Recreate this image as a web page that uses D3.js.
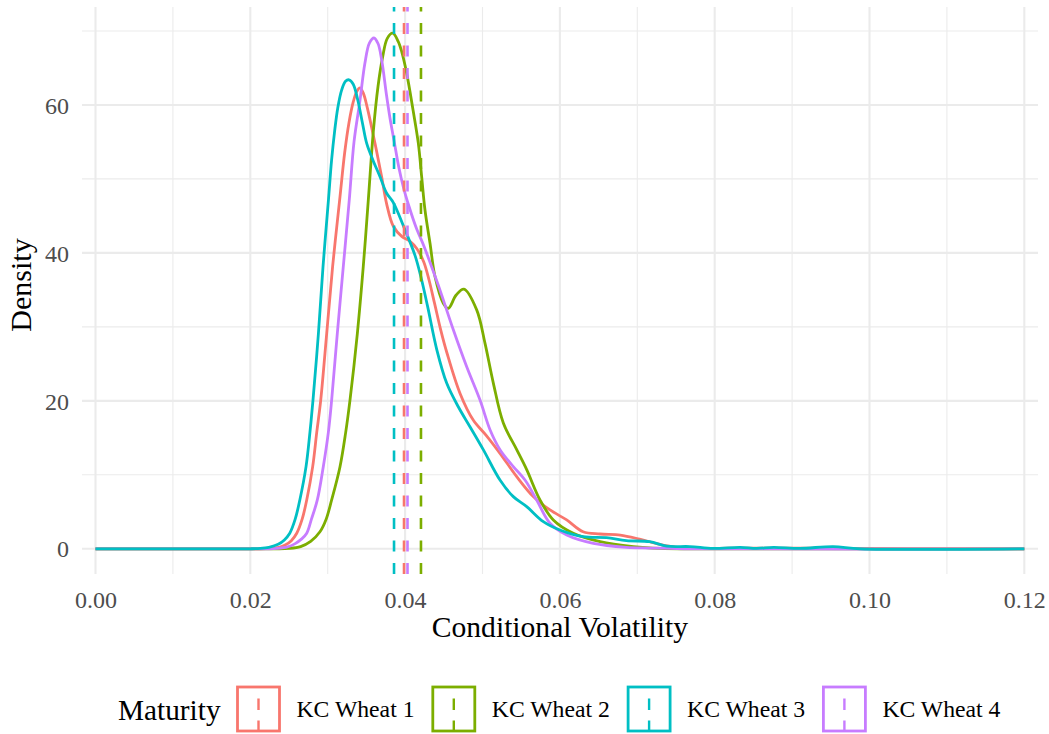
<!DOCTYPE html>
<html>
<head>
<meta charset="utf-8">
<script src="https://cdn.jsdelivr.net/npm/d3@7"></script>
<style>
  html, body { margin: 0; padding: 0; background: #ffffff; }
  svg { display: block; font-family: "Liberation Serif", "DejaVu Serif", serif; }
</style>
</head>
<body>
<svg id="chart" width="1049" height="734"></svg>
<script>
// ---------------- DATA ----------------
const seriesNames = ["KC Wheat 1", "KC Wheat 2", "KC Wheat 3", "KC Wheat 4"];
const seriesColors = ["#F8766D", "#7CAE00", "#00BFC4", "#C77CFF"];
const legendTitle = "Maturity";
const xAxisTitle = "Conditional Volatility";
const yAxisTitle = "Density";
const xTicks = [0, 0.02, 0.04, 0.06, 0.08, 0.10, 0.12];
const xMinorTicks = [0.01, 0.03, 0.05, 0.07, 0.09, 0.11];
const yTicks = [0, 20, 40, 60];
const yMinorTicks = [10, 30, 50, 70];
// mean conditional volatility per maturity (dashed lines)
const seriesMeans = [0.03986, 0.04205, 0.03857, 0.04031];

// density estimates [volatility, density]
const kcWheat1 = [[0,0],[0.021,0],[0.0225,0.05],[0.0237,0.2],[0.0245,0.5],[0.0253,1.1],[0.026,2.1],[0.0267,4.0],
  [0.02729,6.6],[0.02806,11.1],[0.02858,15.7],[0.0291,20.1],[0.02987,29.1],[0.03064,38.2],[0.03159,47.6],
  [0.0322,53.6],[0.03275,57.6],[0.0333,60.4],[0.03375,61.8],[0.03417,62.3],[0.0346,61.6],[0.03512,59.6],
  [0.03611,54.8],[0.03697,50.3],[0.0376,46.7],
  [0.03848,43.6],[0.0396,42.2],[0.0406,41.6],[0.0415,40.6],[0.0424,38.8],[0.0431,36.3],[0.0438,33.2],
  [0.0446,29.6],[0.0454,26.5],[0.0471,21.0],[0.0488,17.4],[0.0505,15.3],[0.05226,12.9],[0.05442,9.75],
  [0.05656,7.05],[0.05872,5.25],[0.06088,3.9],[0.063,2.3],[0.0652,2.0],[0.0678,1.85],[0.0703,1.3],
  [0.0729,0.6],[0.0755,0.15],[0.078,0.05],[0.082,0.08],[0.087,0.1],[0.095,0.08],[0.1,0.01],[0.105,0],[0.12,0]];
const kcWheat2 = [[0,0],[0.023,0],[0.025,0.05],[0.0265,0.3],[0.0278,1.0],[0.029,2.3],[0.0298,4.0],
  [0.03051,6.6],[0.03159,11.1],[0.03232,15.7],[0.03288,20.1],[0.03383,29.1],[0.0346,38.2],[0.03525,47.2],
  [0.0359,56.5],[0.0365,62.5],[0.0371,66.5],[0.0377,69.0],[0.0384,69.7],[0.0391,68.6],[0.03956,67.2],
  [0.0402,64.3],[0.04106,59.1],
  [0.04171,54.8],[0.04214,50.3],[0.04257,45.8],[0.04322,41.3],[0.04386,36.8],[0.04493,33.2],[0.04558,32.5],
  [0.0466,34.3],[0.0476,35.1],[0.04925,32.3],[0.05032,27.8],[0.0514,22.4],[0.05269,17.0],[0.05442,13.4],
  [0.05571,10.7],[0.05743,6.6],[0.05915,3.9],[0.06173,2.1],[0.0652,0.96],[0.0695,0.3],[0.073,0.05],[0.077,0],[0.12,0]];
const kcWheat3 = [[0,0],[0.020,0],[0.0213,0.05],[0.0224,0.2],[0.0236,0.6],[0.0244,1.2],[0.0251,2.1],[0.0258,4.0],
  [0.0264,6.6],[0.0272,11.1],[0.0277,15.7],[0.0281,20.1],[0.0288,29.1],[0.0294,38.2],[0.0301,47.2],[0.0305,52.5],
  [0.0309,56.5],[0.0313,59.6],[0.0318,62.0],[0.0323,63.2],[0.03275,63.4],[0.0333,62.8],[0.0339,60.6],[0.0345,57.5],
  [0.03504,54.8],[0.0359,52.4],[0.03676,50.3],[0.0376,48.1],
  [0.03848,46.8],[0.0398,43.6],[0.0413,39.6],[0.0421,36.5],[0.0429,32.8],[0.0441,26.9],[0.04537,22.4],
  [0.04687,19.2],[0.04838,16.5],[0.0501,13.4],[0.05226,9.3],[0.05398,7.05],[0.05571,5.7],[0.05786,3.67],
  [0.06,2.54],[0.063,1.64],[0.066,1.5],[0.0686,1.1],[0.0716,0.96],[0.0738,0.35],[0.0768,0.3],[0.0798,0.05],
  [0.0833,0.2],[0.0854,0.05],[0.0876,0.2],[0.091,0.05],[0.0953,0.3],[0.0988,0],[0.12,0]];
const kcWheat4 = [[0,0],[0.022,0],[0.0235,0.05],[0.0248,0.25],[0.0258,0.7],[0.0266,1.3],[0.02729,2.1],[0.0279,4.0],
  [0.02866,6.6],[0.02943,11.1],[0.03008,15.7],[0.03051,20.1],[0.03124,29.1],[0.03202,38.2],[0.03279,47.2],
  [0.0334,55.0],[0.03417,60.6],[0.0348,65.6],[0.0354,68.4],[0.03598,69.05],[0.0365,68.3],[0.03697,66.1],
  [0.0376,61.3],[0.03805,58.2],
  [0.0386,55.0],[0.0392,51.5],[0.0398,48.8],[0.0405,46.3],[0.0414,43.5],[0.0424,41.0],[0.0434,38.2],
  [0.0445,35.0],[0.04623,29.6],[0.04796,24.6],[0.04968,20.1],[0.05097,16.1],[0.05226,13.4],[0.05398,11.1],
  [0.05549,9.3],[0.057,6.6],[0.05872,3.45],[0.06088,1.87],[0.06432,0.74],[0.0686,0.2],[0.0716,0.1],[0.076,0],[0.12,0]];
const seriesData = [kcWheat1, kcWheat2, kcWheat3, kcWheat4];

// ---------------- LAYOUT ----------------
const svg = d3.select("#chart");
const panel = { left: 82, right: 1038, top: 7, bottom: 574 };
const x = d3.scaleLinear().domain([-0.001744, 0.12177]).range([panel.left, panel.right]);
const y = d3.scaleLinear().domain([-3.41, 73.24]).range([panel.bottom, panel.top]);
const gridColor = "#EBEBEB";

// grid
const g = svg.append("g");
g.selectAll(".ymin").data(yMinorTicks).join("line")
  .attr("x1", panel.left).attr("x2", panel.right)
  .attr("y1", d => y(d)).attr("y2", d => y(d))
  .attr("stroke", gridColor).attr("stroke-width", 1.1);
g.selectAll(".xmin").data(xMinorTicks).join("line")
  .attr("y1", panel.top).attr("y2", panel.bottom)
  .attr("x1", d => x(d)).attr("x2", d => x(d))
  .attr("stroke", gridColor).attr("stroke-width", 1.1);
g.selectAll(".ymaj").data(yTicks).join("line")
  .attr("x1", panel.left).attr("x2", panel.right)
  .attr("y1", d => y(d)).attr("y2", d => y(d))
  .attr("stroke", gridColor).attr("stroke-width", 2.1);
g.selectAll(".xmaj").data(xTicks).join("line")
  .attr("y1", panel.top).attr("y2", panel.bottom)
  .attr("x1", d => x(d)).attr("x2", d => x(d))
  .attr("stroke", gridColor).attr("stroke-width", 2.1);

// clip
svg.append("clipPath").attr("id", "clip").append("rect")
  .attr("x", panel.left).attr("y", panel.top)
  .attr("width", panel.right - panel.left).attr("height", panel.bottom - panel.top);

const line = d3.line().x(d => x(d[0])).y(d => y(Math.max(0, d[1]))).curve(d3.curveCatmullRom.alpha(0.5));
const drawOrder = [0, 1, 3, 2];
const curves = svg.append("g").attr("clip-path", "url(#clip)");
curves.selectAll("path").data(drawOrder).join("path")
  .attr("d", i => line(seriesData[i]))
  .attr("fill", "none")
  .attr("stroke", i => seriesColors[i])
  .attr("stroke-width", 2.8)
  .attr("stroke-linejoin", "round");

// mean lines (dash pattern starts at bottom)
const vl = svg.append("g").attr("clip-path", "url(#clip)");
vl.selectAll("line").data([0, 1, 2, 3]).join("line")
  .attr("x1", i => x(seriesMeans[i])).attr("x2", i => x(seriesMeans[i]))
  .attr("y1", panel.bottom).attr("y2", panel.top)
  .attr("stroke", i => seriesColors[i])
  .attr("stroke-width", 2.6)
  .attr("stroke-dasharray", "11,11.5");

// axes labels
const xAxis = d3.axisBottom(x).tickValues(xTicks).tickFormat(d3.format(".2f")).tickSize(0).tickPadding(0);
const xa = svg.append("g").attr("transform", `translate(0,${panel.bottom})`).call(xAxis);
xa.select(".domain").remove();
xa.selectAll("text").attr("fill", "#4D4D4D").attr("font-size", 24).attr("dy", null)
  .attr("y", 34).attr("font-family", "Liberation Serif");

const yAxis = d3.axisLeft(y).tickValues(yTicks).tickFormat(d3.format("d")).tickSize(0).tickPadding(0);
const ya = svg.append("g").attr("transform", `translate(${panel.left - 13},0)`).call(yAxis);
ya.select(".domain").remove();
ya.selectAll("text").attr("fill", "#4D4D4D").attr("font-size", 24).attr("dy", "0.34em")
  .attr("x", 0).attr("font-family", "Liberation Serif");

svg.append("text").attr("x", (x(0) + x(0.12)) / 2).attr("y", 637)
  .attr("text-anchor", "middle").attr("font-size", 29.6).attr("fill", "#000").text(xAxisTitle);
svg.append("text").attr("transform", `translate(31,285) rotate(-90)`)
  .attr("text-anchor", "middle").attr("font-size", 30).attr("fill", "#000").text(yAxisTitle);

// legend
const leg = svg.append("g");
leg.append("text").attr("x", 118).attr("y", 720).attr("font-size", 29.3).attr("fill", "#000").text(legendTitle);
const keyX = [237.5, 432.8, 628.1, 823.4];
const items = leg.selectAll(".item").data([0, 1, 2, 3]).join("g")
  .attr("transform", i => `translate(${keyX[i]},687)`);
items.append("rect").attr("x", 0).attr("y", 0).attr("width", 42).attr("height", 44)
  .attr("fill", "none").attr("stroke", i => seriesColors[i]).attr("stroke-width", 2.8);
items.append("line").attr("x1", 21).attr("x2", 21).attr("y1", 45).attr("y2", -1)
  .attr("stroke", i => seriesColors[i]).attr("stroke-width", 2.4).attr("stroke-dasharray", "11.5,10.5");
items.append("text").attr("x", 59).attr("y", 30).attr("font-size", 23.7).attr("fill", "#000")
  .text(i => seriesNames[i]);
</script>
</body>
</html>
